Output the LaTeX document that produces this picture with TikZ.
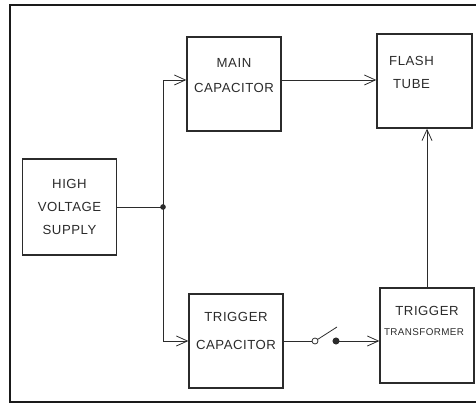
\documentclass[tikz,border=0pt]{standalone}
\usepackage{fontspec}
\usepackage{tikz}
\usetikzlibrary{
  arrows.meta,
  positioning,
  calc
}
\newfontfamily\handfont[LetterSpace=4]{Liberation Sans}
\definecolor{fdInk}{HTML}{2B2B2B}
\definecolor{fdFrame}{HTML}{1A1A1A}
\tikzset{
  fdblock/.style={
    draw=fdInk, line width=0.8pt, minimum width=1.88cm, minimum height=1.88cm,
    inner sep=0pt
  },
  fdtext/.style={font=\handfont\fontsize{7.5}{9}\selectfont, align=center, text=fdInk, inner sep=0pt},
  fdsmall/.style={font=\handfont\fontsize{5.6}{7}\selectfont, text=fdInk, inner sep=0pt},
  feed/.style={-{Straight Barb[length=2.2mm, width=2mm]}, line width=0.45pt, fdInk},
  wire/.style={line width=0.45pt, fdInk},
  frame/.style={line width=1.6pt, fdFrame}
}

\begin{document}
\begin{tikzpicture}[x=0.02cm, y=-0.02cm]
  \useasboundingbox (0,0) rectangle (476,404);
  % frame
  \draw[frame] (476,5) -- (10,5) -- (10,402) -- (476,402);

  % blocks
  \node[fdblock, minimum height=1.92cm] (hvs) at (69.5,207) {};
  \node[fdblock] (mcap) at (234,84) {};
  \node[fdblock, minimum width=1.9cm] (tube) at (424.5,81) {};
  \node[fdblock] (tcap) at (236,341) {};
  \node[fdblock, minimum height=1.9cm] (ttr) at (427,335.5) {};

  % block texts
  \node[fdtext] at (hvs) {HIGH\\[4pt]VOLTAGE\\[4pt]SUPPLY};
  \node[fdtext, below=0.44cm of mcap.north] {MAIN\\[5pt]CAPACITOR};
  \node[fdtext, below=0.46cm of tube.north, xshift=-0.26cm] {FLASH\\[4pt]TUBE};
  \node[fdtext, below=0.38cm of tcap.north] {TRIGGER\\[7pt]CAPACITOR};
  \node[fdtext, below=0.38cm of ttr.north] (ttrtop) {TRIGGER};
  \node[fdsmall, below=0.24cm of ttrtop, xshift=-0.06cm] {TRANSFORMER};

  % junction and switch
  \coordinate (j) at (163,207);
  \coordinate (mcin) at (163,80);
  \coordinate (mcout) at (281,80);
  \coordinate (swa) at (315,341);
  \coordinate (swb) at (336,341);
  \fill[fdInk] (j) circle (1.6pt);

  % connectors
  \draw[wire] (hvs.east |- j) -- (j);
  \draw[feed] (j) -- (mcin) -- (mcin -| mcap.west);
  \draw[feed] (j) |- (tcap.west);
  \draw[feed] (mcout) -- (mcout -| tube.west);
  \draw[wire] (tcap.east) -- ($(swa)+(-3,0)$);
  \draw[wire] (swa) circle (3);
  \draw[wire] ($(swa)+(2.5,-1.5)$) -- (337,327);
  \fill[fdInk] (swb) circle (2pt);
  \draw[feed] (swb) -- (swb -| ttr.west);
  \draw[feed] (ttr.north) -- (ttr.north |- tube.south);
\end{tikzpicture}
\end{document}
